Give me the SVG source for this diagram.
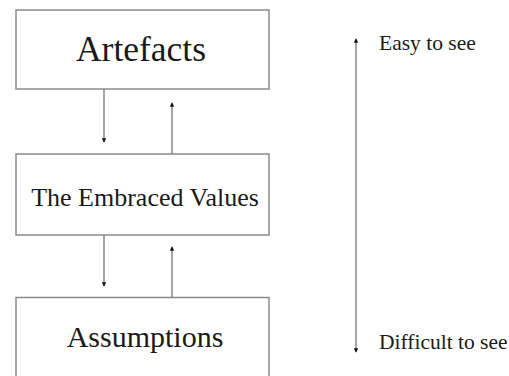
<svg xmlns="http://www.w3.org/2000/svg" width="509" height="376" viewBox="0 0 509 376">
<style>
.box{fill:#fff;stroke:#8a8a8a;stroke-width:1.5}
.lbl{font-family:"Liberation Serif","Times New Roman",serif;fill:#1a1a1a;text-anchor:middle}
.side{font-family:"Liberation Serif","Times New Roman",serif;fill:#1a1a1a;font-size:21.5px}
.con{stroke:#777;stroke-width:1.3;fill:none;marker-end:url(#ah)}
</style>
<defs>
<marker id="ah" viewBox="0 0 6 6" refX="5" refY="3" markerWidth="3.5" markerHeight="3.5" orient="auto" markerUnits="strokeWidth">
<path d="M0,0 L6,3 L0,6 z" fill="#111"/>
</marker>
</defs>
<rect width="509" height="376" fill="#fff"/>
<g id="artefacts">
<rect class="box" x="16" y="10" width="253" height="79"/>
<text class="lbl" x="141" y="61" font-size="35.5">Artefacts</text>
</g>
<g id="values">
<rect class="box" x="16" y="154" width="253" height="81"/>
<text class="lbl" x="145" y="206" font-size="26">The Embraced Values</text>
</g>
<g id="assumptions">
<rect class="box" x="16" y="297.5" width="253" height="90"/>
<text class="lbl" x="145" y="347" font-size="30">Assumptions</text>
</g>
<g id="scale">
<text class="side" x="379" y="50">Easy to see</text>
<text class="side" x="379" y="349">Difficult to see</text>
</g>
<g id="connectors">
<line class="con" x1="104" y1="89" x2="104" y2="142"/>
<line class="con" x1="172" y1="154" x2="172" y2="103"/>
<line class="con" x1="104" y1="235" x2="104" y2="286"/>
<line class="con" x1="172" y1="297.5" x2="172" y2="247"/>
<line class="con" x1="356" y1="196" x2="356" y2="39"/>
<line class="con" x1="356" y1="196" x2="356" y2="352"/>
</g>
</svg>
